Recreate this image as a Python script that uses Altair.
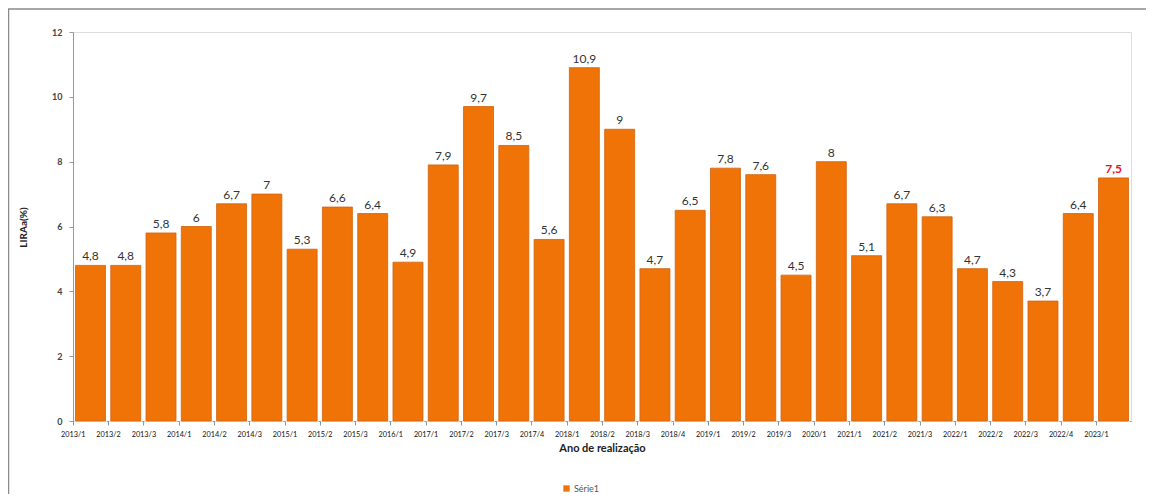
import altair as alt
import pandas as pd

categorias = ["2013/1", "2013/2", "2013/3", "2014/1", "2014/2", "2014/3", "2015/1", "2015/2",
              "2015/3", "2016/1", "2017/1", "2017/2", "2017/3", "2017/4", "2018/1", "2018/2",
              "2018/3", "2018/4", "2019/1", "2019/2", "2019/3", "2020/1", "2021/1", "2021/2",
              "2021/3", "2022/1", "2022/2", "2022/3", "2022/4", "2023/1"]
valores = [4.8, 4.8, 5.8, 6, 6.7, 7, 5.3, 6.6, 6.4, 4.9, 7.9, 9.7, 8.5, 5.6, 10.9, 9,
           4.7, 6.5, 7.8, 7.6, 4.5, 8, 5.1, 6.7, 6.3, 4.7, 4.3, 3.7, 6.4, 7.5]
serie = "Série1"
y_ticks = [0, 2, 4, 6, 8, 10, 12]

df = pd.DataFrame({
    "periodo": categorias,
    "valor": valores,
    "rotulo": [f"{v:g}".replace(".", ",") for v in valores],
    "ultimo": [i == len(valores) - 1 for i in range(len(valores))],
    "serie": serie,
})

W, H = 1058, 389
ORANGE = "#F07308"

x_enc = alt.X(
    "periodo:N", sort=categorias,
    scale=alt.Scale(paddingInner=0.15, paddingOuter=0.07),
    axis=alt.Axis(
        title="Ano de realização", labelAngle=0, labelFontSize=7.3, labelColor="#111",
        labelFont="Lato", labelPadding=5, tickSize=4, tickColor="#8796a8",
        tickOffset=-W / 30 / 2, domainColor="#999", titleFont="Lato", titleFontSize=11,
        titleFontWeight="bold", titleColor="#222", titleY=27, titleBaseline="middle",
    ),
)
y_enc = alt.Y(
    "valor:Q", scale=alt.Scale(domain=[0, 12]),
    axis=alt.Axis(
        values=y_ticks, grid=False, title="LIRAa(%)", labelFont="Lato", labelFontSize=9,
        labelFontWeight="bold", labelColor="#444", labelPadding=7, tickSize=4,
        tickColor="#999", domainColor="#999", titleFont="Lato", titleFontSize=10,
        titleFontWeight="bold", titleColor="#222", titleX=-50, titleY=195,
        titleAngle=270, titleAlign="center", titleBaseline="middle",
    ),
)

base = alt.Chart(df)

halo = base.mark_bar(fill="#ffffff", stroke="#ffffff", strokeWidth=3, opacity=0.7).encode(
    x=x_enc, y=y_enc
)

bars = base.mark_bar(stroke="#D2620C", strokeWidth=0.8).encode(
    x=x_enc, y=y_enc,
    color=alt.Color("serie:N", scale=alt.Scale(range=[ORANGE]),
                    legend=alt.Legend(title=None, orient="none", legendX=489, legendY=452,
                                      symbolType="square", symbolSize=40, symbolStrokeWidth=0,
                                      labelFont="Lato", labelFontSize=9, labelColor="#555",
                                      labelOffset=3, padding=0)),
)

labels = base.transform_filter("!datum.ultimo").mark_text(
    baseline="bottom", dy=-2, font="Lato", fontSize=12, color="#333"
).encode(x=alt.X("periodo:N", sort=categorias), y="valor:Q", text="rotulo:N")

label_last = base.transform_filter("datum.ultimo").mark_text(
    baseline="bottom", dy=-2, font="Lato", fontSize=12, fontWeight="bold", color="#E8102A"
).encode(x=alt.X("periodo:N", sort=categorias), y="valor:Q", text="rotulo:N")

border_top = alt.Chart(pd.DataFrame({"a": [0]})).mark_rule(color="#8a8a8a", strokeWidth=1.5).encode(
    x=alt.value(-65), x2=alt.value(W + 15), y=alt.value(-23)
)
border_left = alt.Chart(pd.DataFrame({"a": [0]})).mark_rule(color="#8a8a8a", strokeWidth=1.5).encode(
    x=alt.value(-64.5), y=alt.value(-23), y2=alt.value(H + 73)
)

chart = alt.layer(halo, bars, labels, label_last, border_top, border_left).properties(
    width=W, height=H,
    autosize=alt.AutoSizeParams(type="none"),
    padding={"left": 65, "top": 24, "right": 15, "bottom": 73},
).configure_view(fill="#F2F2F2", strokeWidth=0).configure(background="#ffffff")

chart.save("out.html", embed_options={"renderer": "svg", "actions": False})
